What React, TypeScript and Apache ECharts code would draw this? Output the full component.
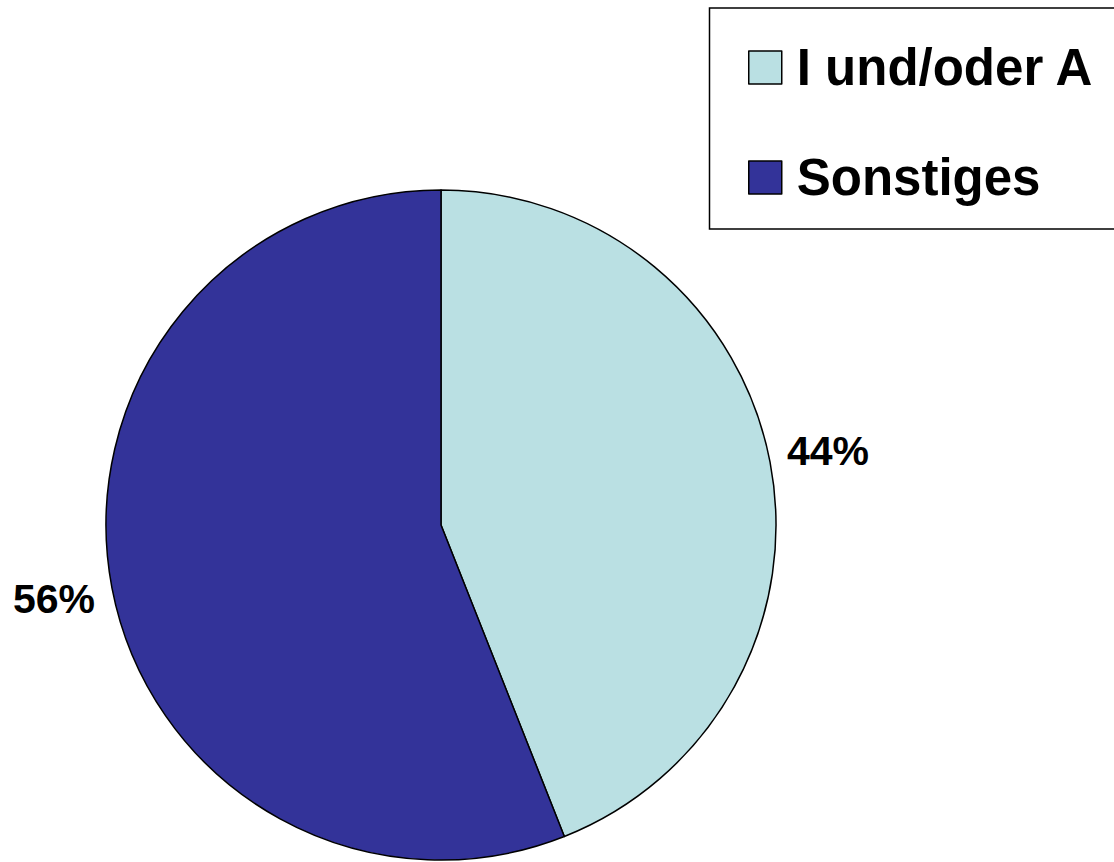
import React, { useEffect, useRef } from "react";
import * as echarts from "echarts";

const categories = ["I und/oder A", "Sonstiges"];
const values = [44, 56];
const colors = ["#BAE0E3", "#333399"];

export default function App() {
  const ref = useRef<HTMLDivElement>(null);
  useEffect(() => {
    if (!ref.current) return;
    const chart = echarts.init(ref.current, undefined, { renderer: "svg" });
    const data = categories.map((name, i) => ({
      name,
      value: values[i],
      itemStyle: { color: colors[i] },
    }));
    const font = "'Liberation Sans', Arial, Helvetica, sans-serif";
    chart.setOption({
      animation: false,
      backgroundColor: "#ffffff",
      graphic: [
        {
          type: "rect",
          z: -1,
          shape: { x: 709.5, y: 8, width: 500, height: 221 },
          style: { fill: "#ffffff", stroke: "#000000", lineWidth: 1.5 },
        },
      ],
      legend: {
        orient: "vertical",
        left: 710,
        top: 8,
        padding: [34, 10, 28, 38],
        itemWidth: 33,
        itemHeight: 33,
        itemGap: 59,
        icon: "rect",
        borderWidth: 0,
        selectedMode: false,
        data: categories,
        itemStyle: { borderColor: "#000000", borderWidth: 1.5 },
        textStyle: {
          fontFamily: font,
          fontWeight: "bold",
          fontSize: 51,
          lineHeight: 50,
          color: "#000000",
          padding: [0, 0, 0, 10],
        },
      },
      series: [
        {
          type: "pie",
          center: [441, 525],
          radius: [0, 335],
          startAngle: 90,
          clockwise: true,
          label: { show: false },
          labelLine: { show: false },
          emphasis: { disabled: true },
          itemStyle: { borderColor: "#000000", borderWidth: 1.5 },
          data,
        },
        {
          type: "pie",
          center: [441, 525],
          radius: [378, 404],
          startAngle: 90,
          clockwise: true,
          silent: true,
          legendHoverLink: false,
          emphasis: { disabled: true },
          itemStyle: { color: "rgba(0,0,0,0)", borderWidth: 0 },
          labelLine: { show: false },
          label: {
            show: true,
            position: "inside",
            formatter: "{d}%",
            fontFamily: font,
            fontWeight: "bold",
            fontSize: 41,
            color: "#000000",
            textBorderWidth: 0,
            textBorderColor: "transparent",
          },
          data: categories.map((name, i) => ({
            name,
            value: values[i],
            itemStyle: { color: "rgba(0,0,0,0)" },
          })),
        },
      ],
    });
    return () => chart.dispose();
  }, []);
  return (
    <div
      ref={ref}
      style={{ position: "fixed", left: 0, top: 0, width: 1114, height: 862 }}
    />
  );
}
